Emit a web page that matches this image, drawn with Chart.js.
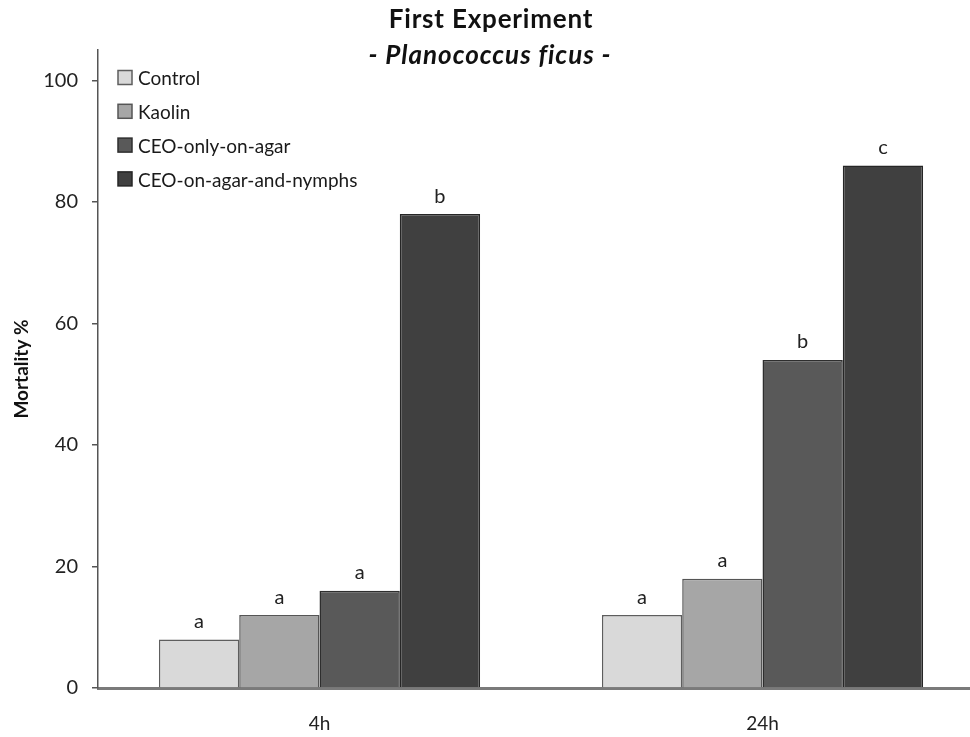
<!DOCTYPE html>
<html>
<head>
<meta charset="utf-8">
<script src="https://cdn.jsdelivr.net/npm/chart.js@4/dist/chart.umd.min.js"></script>
<style>
  html, body { margin: 0; padding: 0; background: #fff; overflow: hidden; }
  #wrap { width: 970px; height: 737px; overflow: hidden; }
</style>
</head>
<body>
<div id="wrap"><canvas id="c" width="984" height="737"></canvas></div>
<script>
const categories = ["4h", "24h"];
const seriesNames = ["Control", "Kaolin", "CEO-only-on-agar", "CEO-on-agar-and-nymphs"];
const control = [8, 12];
const kaolin = [12, 18];
const ceoOnlyOnAgar = [16, 54];
const ceoOnAgarAndNymphs = [78, 86];
const letters4h = ["a", "a", "a", "b"];
const letters24h = ["a", "a", "b", "c"];
const yTicks = [0, 20, 40, 60, 80, 100];
const titleText = "First Experiment";
const subtitleText = "- Planococcus ficus -";
const yTitle = "Mortality %";

const FONT = "Lato, 'Open Sans', sans-serif";
const fills = ["#d9d9d9", "#a6a6a6", "#595959", "#404040"];
const borders = ["#5e5e5e", "#555555", "#2e2e2e", "#262626"];
const seriesValues = [control, kaolin, ceoOnlyOnAgar, ceoOnAgarAndNymphs];
const lettersByCategory = [letters4h, letters24h];

const datasets = seriesNames.map((name, i) => ({
  label: name,
  data: seriesValues[i],
  backgroundColor: fills[i],
  borderColor: borders[i],
  borderWidth: 1.5,
  borderSkipped: 'bottom',
  barPercentage: 1.0,
  categoryPercentage: 0.725
}));

const extras = {
  id: 'extras',
  afterDatasetsDraw(chart) {
    const ctx = chart.ctx;
    ctx.save();
    // letters above bars
    ctx.fillStyle = '#222';
    ctx.font = "20px " + FONT;
    ctx.textAlign = 'center';
    ctx.textBaseline = 'bottom';
    chart.data.datasets.forEach((ds, di) => {
      const meta = chart.getDatasetMeta(di);
      meta.data.forEach((bar, ci) => {
        ctx.fillText(lettersByCategory[ci][di], bar.x, bar.y - 8);
      });
    });
    // legend inside plot area
    const lx = 118, ly0 = 77.5, step = 33.8, box = 14;
    ctx.textAlign = 'left';
    ctx.textBaseline = 'middle';
    ctx.font = "19px " + FONT;
    chart.data.datasets.forEach((ds, di) => {
      const y = ly0 + di * step;
      ctx.fillStyle = ds.backgroundColor;
      ctx.fillRect(lx, y - box / 2, box, box);
      ctx.strokeStyle = ds.borderColor;
      ctx.lineWidth = 1.5;
      ctx.strokeRect(lx, y - box / 2, box, box);
      ctx.fillStyle = '#1a1a1a';
      ctx.fillText(ds.label, lx + 20, y + 1.5);
    });
    // titles
    ctx.textAlign = 'center';
    ctx.fillStyle = '#111';
    ctx.font = "bold 26px " + FONT;
    ctx.letterSpacing = "0.8px";
    ctx.fillText(titleText, 491, 20);
    ctx.font = "italic bold 26px " + FONT;
    ctx.letterSpacing = "1px";
    ctx.fillText(subtitleText, 490, 56);
    ctx.restore();
  }
};

new Chart(document.getElementById('c'), {
  type: 'bar',
  data: { labels: categories, datasets },
  options: {
    responsive: false,
    animation: false,
    layout: { padding: { top: 50, left: 0, right: 0, bottom: 0 } },
    plugins: {
      legend: { display: false },
      title: { display: false },
      tooltip: { enabled: false }
    },
    scales: {
      x: {
        grid: { display: false, drawTicks: false },
        border: { display: true, color: '#7a7a7a', width: 3 },
        ticks: { color: '#222', font: { family: FONT, size: 19 }, padding: 24 },
        afterFit(scale) { scale.height = 49; }
      },
      y: {
        min: 0,
        max: 105,
        afterBuildTicks(scale) {
          scale.ticks = yTicks.map(v => ({ value: v }));
        },
        grid: { drawOnChartArea: false, drawTicks: true, tickLength: 6, color: '#555', lineWidth: 1.5 },
        border: { display: true, color: '#555', width: 1.5 },
        ticks: { color: '#222', font: { family: FONT, size: 20 }, padding: 14 },
        title: {
          display: true,
          text: yTitle,
          color: '#111',
          font: { family: FONT, size: 19, weight: 'bold' },
          padding: { top: 10, bottom: 0 }
        },
        afterFit(scale) { scale.width = 98; }
      }
    }
  },
  plugins: [extras]
});
</script>
</body>
</html>
